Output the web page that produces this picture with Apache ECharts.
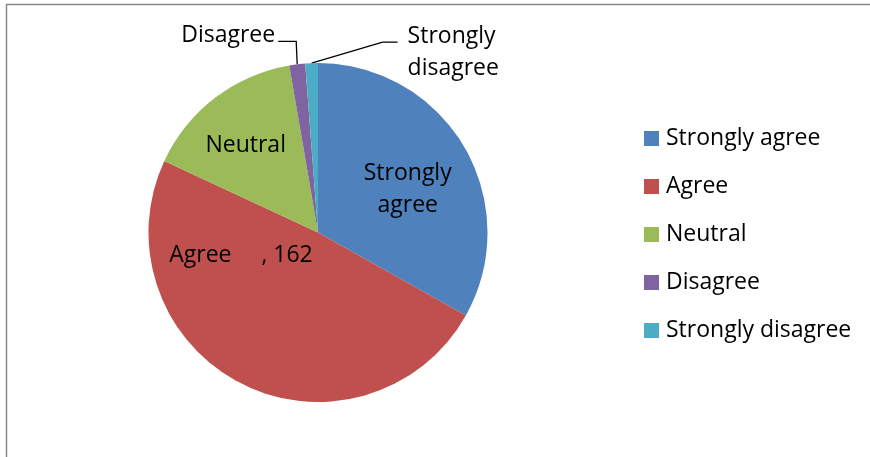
<!DOCTYPE html>
<html>
<head>
<meta charset="utf-8">
<script src="https://cdn.jsdelivr.net/npm/echarts@6/dist/echarts.min.js"></script>
<style>
html, body { margin: 0; padding: 0; background: #fff; }
#chart { width: 870px; height: 457px; }
</style>
</head>
<body>
<div id="chart"></div>
<script>
// survey answers
var categories = ['Strongly agree', 'Agree', 'Neutral', 'Disagree', 'Strongly disagree'];
var responses = [110, 162, 51, 5, 4];

// look
var sliceColors = ['#4F81BD', '#C0504D', '#9BBB59', '#8064A2', '#4BACC6'];
var FONT = "'Open Sans', sans-serif";
// inside labels are nudged like the excel original
var insideOffsets = [[14, 1], [-37, -55], [-19, -17]];

var chart = echarts.init(document.getElementById('chart'));

var pieData = categories.map(function (name, i) {
	var item = { name: name, value: responses[i], itemStyle: { color: sliceColors[i] } };
	if (i < 3) {
		item.label = { position: 'inside', offset: insideOffsets[i] };
	} else {
		item.label = { position: 'outside' };
		item.labelLine = { show: true };
	}
	return item;
});

var option = {
	animation: false,
	graphic: [{
		type: 'rect',
		z: -1,
		shape: { x: 6.5, y: 4.5, width: 900, height: 500 },
		style: { fill: 'none', stroke: '#8a8a8a', lineWidth: 1.5 }
	}],
	legend: {
		orient: 'vertical',
		left: 639,
		top: 121.5,
		itemWidth: 15,
		itemHeight: 15,
		itemGap: 24,
		icon: 'rect',
		data: categories,
		textStyle: {
			fontFamily: FONT,
			fontSize: 23,
			lineHeight: 24,
			color: '#000',
			padding: [0, 0, 0, 2]
		}
	},
	series: [{
		type: 'pie',
		center: [318, 232.5],
		radius: 169.5,
		startAngle: 90,
		clockwise: true,
		avoidLabelOverlap: false,
		emphasis: { disabled: true },
		itemStyle: { borderWidth: 0 },
		label: {
			show: true,
			fontFamily: FONT,
			fontSize: 23,
			lineHeight: 32,
			color: '#000',
			formatter: function (p) {
				if (p.dataIndex === 1) return p.name + '     , ' + p.value;
				if (p.dataIndex === 0 || p.dataIndex === 4) return p.name.replace(' ', '\n');
				return p.name;
			}
		},
		labelLine: {
			lineStyle: { color: '#000', width: 1.3 }
		},
		labelLayout: function (p) {
			if (!p.labelLinePoints) return;
			var e = p.labelLinePoints[0];
			if (p.dataIndex === 3) {
				return {
					x: e[0] - 22, y: e[1] - 29, align: 'right', verticalAlign: 'middle',
					labelLinePoints: [e, [e[0] - 1, e[1] - 23], [e[0] - 19, e[1] - 23]]
				};
			}
			if (p.dataIndex === 4) {
				return {
					x: e[0] + 96, y: e[1] - 11, align: 'left', verticalAlign: 'middle',
					labelLinePoints: [e, [e[0] + 71, e[1] - 21], [e[0] + 86, e[1] - 21]]
				};
			}
		},
		data: pieData
	}]
};

chart.setOption(option);
</script>
</body>
</html>
